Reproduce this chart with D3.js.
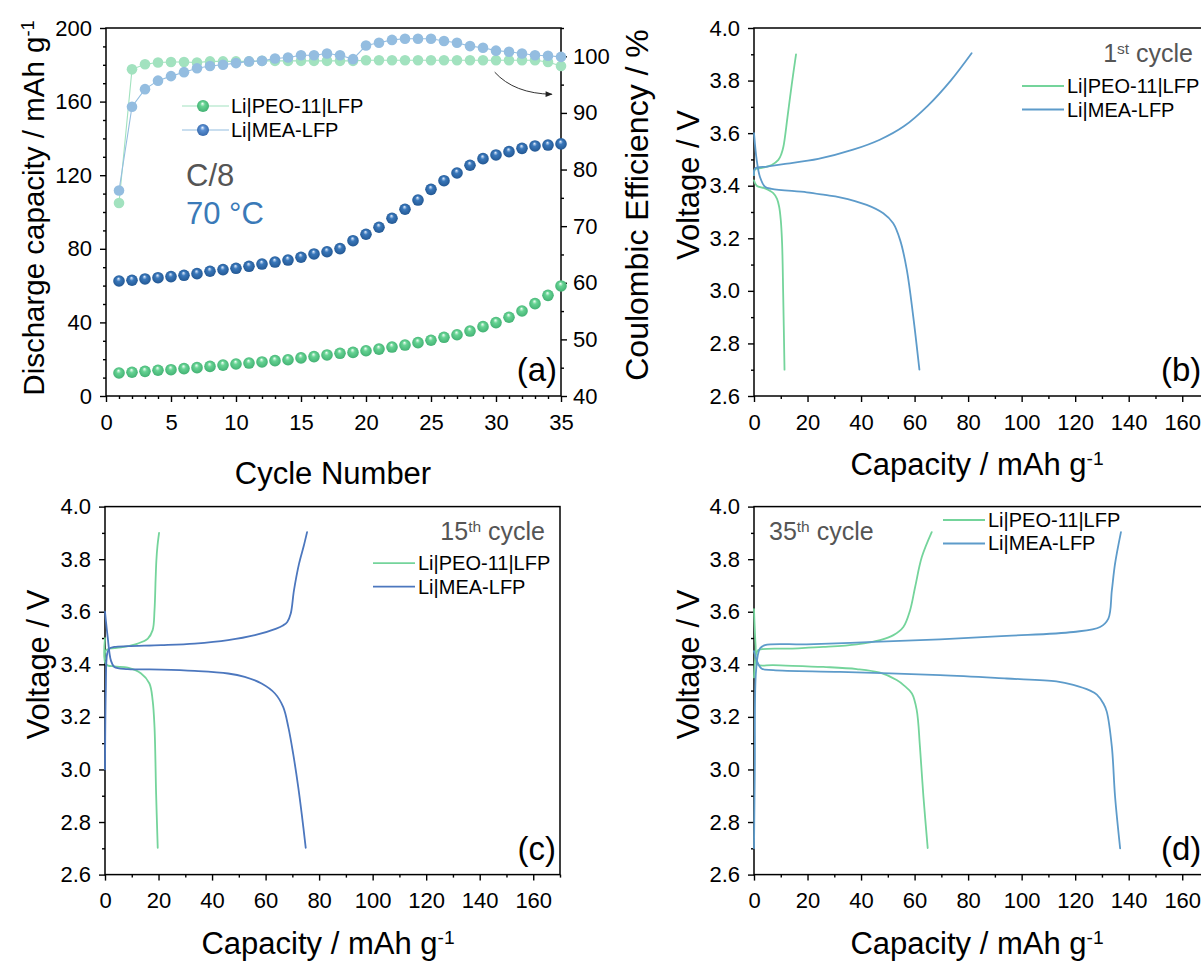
<!DOCTYPE html>
<html>
<head>
<meta charset="utf-8">
<script src="https://cdn.jsdelivr.net/npm/d3@7"></script>
<style>
  body { margin: 0; background: #fff; }
  svg { display: block; }
  text { font-family: "Liberation Sans", Arial, sans-serif; }
</style>
</head>
<body>
<svg id="fig" width="1201" height="962"></svg>
<script>
// ---------- Cycling data (panel a) ----------
const cycles = [1,2,3,4,5,6,7,8,9,10,11,12,13,14,15,16,17,18,19,20,21,22,23,24,25,26,27,28,29,30,31,32,33,34,35];
const peoCapacity = [12.5,12.9,13.4,14.0,14.3,14.9,15.4,16.1,16.8,17.4,17.9,18.5,19.2,19.7,20.7,21.4,22.3,23.2,23.7,24.6,25.5,26.6,27.7,29.0,30.3,31.9,33.3,35.3,37.7,39.9,42.8,46.2,50.2,54.7,59.8];
const meaCapacity = [62.5,62.9,63.6,64.3,64.9,65.6,66.5,67.8,68.7,69.4,70.5,71.7,72.8,73.9,75.4,77.2,78.4,80.1,84.4,87.9,91.7,96.6,101.5,106.5,112.3,117.0,121.2,125.4,129.0,131.0,132.8,134.6,135.9,136.4,137.0];
const peoCE = [74.1,97.7,98.6,98.9,99.0,99.0,98.9,99.1,99.1,99.1,99.1,99.2,99.2,99.2,99.2,99.2,99.2,99.2,99.2,99.3,99.3,99.3,99.3,99.3,99.3,99.3,99.3,99.3,99.3,99.3,99.3,99.3,99.3,99.0,98.3];
const meaCE = [76.3,91.1,94.2,95.7,96.5,97.2,97.9,98.3,98.5,98.8,99.1,99.2,99.6,99.8,100.2,100.2,100.5,100.2,99.5,101.9,102.4,102.9,103.1,103.1,103.1,102.7,102.4,101.8,101.5,101.0,100.8,100.5,100.2,100.1,99.9];

// ---------- Tick values ----------
const cycleTicks = [0,5,10,15,20,25,30,35];
const cycleMinor = [1,2,3,4,6,7,8,9,11,12,13,14,16,17,18,19,21,22,23,24,26,27,28,29,31,32,33,34];
const capATicks = [0,40,80,120,160,200];
const capAMinor = [10,20,30,50,60,70,90,100,110,130,140,150,170,180,190];
const ceTicks = [40,50,60,70,80,90,100];
const ceMinor = [45,55,65,75,85,95,105];
const capTicks = [0,20,40,60,80,100,120,140,160];
const capMinor = [10,30,50,70,90,110,130,150,170];
const voltTicks = [2.6,2.8,3.0,3.2,3.4,3.6,3.8,4.0];
const voltMinor = [2.7,2.9,3.1,3.3,3.5,3.7,3.9];

// ---------- Voltage profiles [capacity mAh/g, voltage V] ----------
const peoCharge1 = [[0,3.44],[0.4,3.462],[3,3.468],[6.6,3.479],[9.1,3.498],[10.2,3.52],[11,3.549],[12.5,3.66],[14.1,3.785],[15.7,3.90]];
const peoDischarge1 = [[0,3.42],[1,3.40],[4,3.39],[7.2,3.372],[8.6,3.35],[9.4,3.32],[10.0,3.27],[10.5,3.18],[10.9,2.99],[11.4,2.70]];
const meaCharge1 = [[0,3.44],[0.4,3.466],[5,3.473],[11,3.482],[24,3.502],[37,3.537],[47,3.575],[56,3.626],[65,3.705],[73.5,3.80],[81.3,3.904]];
const meaDischarge1 = [[0,3.60],[1,3.498],[2.2,3.434],[4.1,3.396],[6.6,3.388],[19.7,3.375],[26.5,3.365],[32.1,3.356],[42.1,3.327],[48.3,3.295],[52,3.257],[54.6,3.193],[57.1,3.08],[59.5,2.902],[61.8,2.70]];

const peoCharge15 = [[0,3.42],[0.4,3.454],[6,3.464],[12.2,3.479],[16,3.498],[17.8,3.53],[18.5,3.606],[18.9,3.72],[19.2,3.796],[19.6,3.85],[20.2,3.90]];
const peoDischarge15 = [[0,3.50],[0.4,3.40],[3.5,3.392],[8.5,3.387],[13.5,3.365],[16.6,3.327],[17.8,3.263],[18.5,3.161],[19.1,2.907],[19.7,2.702]];
const meaCharge15 = [[0,3.0],[0.3,3.3],[0.8,3.44],[1.6,3.46],[3.5,3.466],[8.5,3.469],[21,3.473],[33.5,3.479],[46,3.492],[56,3.511],[64,3.536],[66.5,3.548],[68.1,3.561],[69.4,3.593],[70.6,3.681],[72.5,3.783],[74.3,3.852],[75.5,3.903]];
const meaDischarge15 = [[0,3.60],[1,3.504],[2.2,3.415],[3.5,3.39],[8.5,3.382],[21,3.38],[33.5,3.375],[46,3.365],[52.2,3.352],[58.5,3.327],[63.5,3.289],[66.6,3.237],[68.5,3.161],[70.3,3.06],[72.2,2.933],[73.5,2.831],[75,2.702]];

const peoCharge35 = [[0,3.35],[0.8,3.44],[1.6,3.454],[13.5,3.46],[25.9,3.466],[38.4,3.476],[47.1,3.492],[52.1,3.511],[55.8,3.542],[58.3,3.605],[60.2,3.694],[62.7,3.808],[66.4,3.903]];
const peoDischarge35 = [[0,3.61],[0.6,3.47],[1.2,3.40],[7.2,3.397],[25.9,3.39],[38.4,3.382],[47.1,3.368],[53.3,3.34],[56,3.32],[59,3.289],[60.8,3.226],[62,3.087],[63.3,2.897],[64.9,2.701]];
const meaCharge35 = [[0,2.70],[0.3,3.0],[0.8,3.38],[2.2,3.46],[4.1,3.473],[19.7,3.476],[44.6,3.485],[69.5,3.495],[94.4,3.508],[119.3,3.523],[129.3,3.542],[132.4,3.574],[133.7,3.681],[134.9,3.783],[137.1,3.903]];
const meaDischarge35 = [[0,3.45],[1,3.415],[2.8,3.384],[7.2,3.378],[32.1,3.371],[69.5,3.359],[94.4,3.346],[113,3.335],[119.3,3.322],[125.6,3.30],[128.1,3.285],[130.6,3.25],[131.8,3.22],[133.7,3.087],[134.9,2.897],[136.8,2.70]];

const seriesNames = ["Li|PEO-11|LFP", "Li|MEA-LFP"];

// ---------- Styling ----------
const GREEN = "#74d49b";
const BLUE = "#5d9bca";
const BLUE_C = "#4c77be";
const GREEN_CE = "#a2e2bf";
const BLUE_CE = "#94bde0";
const AXIS_FONT = 22;
const TITLE_FONT = 31;

const svg = d3.select("#fig");
const defs = svg.append("defs");

function sphereGradient(id, light, mid, dark) {
  const g = defs.append("radialGradient").attr("id", id)
    .attr("cx", "50%").attr("cy", "50%").attr("r", "55%")
    .attr("fx", "45%").attr("fy", "28%");
  g.append("stop").attr("offset", "0%").attr("stop-color", light);
  g.append("stop").attr("offset", "35%").attr("stop-color", mid);
  g.append("stop").attr("offset", "100%").attr("stop-color", dark);
}
sphereGradient("ballGreen", "#f4fff8", "#66d393", "#3fae70");
sphereGradient("ballBlue", "#e4efff", "#3a78bb", "#20548f");
sphereGradient("ballBlueLegend", "#eef5ff", "#5a8fd2", "#3566a8");

defs.append("marker").attr("id", "arrowHead")
  .attr("viewBox", "0 0 10 10").attr("refX", 9).attr("refY", 5)
  .attr("markerWidth", 9).attr("markerHeight", 7).attr("orient", "auto")
  .attr("markerUnits", "userSpaceOnUse")
  .append("path").attr("d", "M0,1 L10,5 L0,9 Z").attr("fill", "#222");

const axisStyle = sel => {
  sel.select(".domain").remove();
  sel.selectAll("line").attr("stroke", "#000").attr("stroke-width", 1.4);
  sel.selectAll("text").attr("font-size", AXIS_FONT).attr("fill", "#000")
    .attr("font-family", "Liberation Sans, Arial, sans-serif");
};

// Draws a framed panel with outward major/minor ticks.
function framePanel(g, x, y, w, h, o) {
  g.append("g").attr("transform", `translate(0,${h})`)
    .call(d3.axisBottom(x).tickValues(o.xTicks).tickSize(6).tickPadding(12).tickFormat(o.xFmt))
    .call(axisStyle);
  g.append("g").attr("transform", `translate(0,${h})`)
    .call(d3.axisBottom(x).tickValues(o.xMinor).tickSize(3).tickFormat(""))
    .call(axisStyle);
  g.append("g")
    .call(d3.axisLeft(y).tickValues(o.yTicks).tickSize(6).tickPadding(8).tickFormat(o.yFmt))
    .call(axisStyle);
  g.append("g")
    .call(d3.axisLeft(y).tickValues(o.yMinor).tickSize(3).tickFormat(""))
    .call(axisStyle);
  g.append("rect").attr("width", w).attr("height", h)
    .attr("fill", "none").attr("stroke", "#000").attr("stroke-width", 1.5);
}

function supText(sel, parts) {
  parts.forEach(([t, sup]) => {
    const ts = sel.append("tspan").text(t);
    if (sup) ts.attr("baseline-shift", "super").attr("font-size", "62%");
  });
  return sel;
}

function vTitle(cx, cy, size, parts) {
  const t = svg.append("text")
    .attr("transform", `translate(${cx},${cy}) rotate(-90)`)
    .attr("text-anchor", "middle").attr("dy", "0.36em")
    .attr("font-size", size).attr("fill", "#000");
  return supText(t, parts);
}
function hTitle(cx, by, parts) {
  const t = svg.append("text").attr("x", cx).attr("y", by)
    .attr("text-anchor", "middle").attr("font-size", TITLE_FONT).attr("fill", "#000");
  return supText(t, parts);
}

const W = 455, H = 368;

// ================= Panel (a) =================
{
  const L = 106, T = 28;
  const g = svg.append("g").attr("transform", `translate(${L},${T})`);
  const x = d3.scaleLinear().domain([0, 35]).range([0, W]);
  const y = d3.scaleLinear().domain([0, 200]).range([H, 0]);
  const y2 = d3.scaleLinear().domain([40, 105]).range([H, 0]);

  framePanel(g, x, y, W, H, {
    xTicks: cycleTicks, xMinor: cycleMinor, xFmt: d3.format("d"),
    yTicks: capATicks, yMinor: capAMinor, yFmt: d3.format("d")
  });
  g.append("g").attr("transform", `translate(${W},0)`)
    .call(d3.axisRight(y2).tickValues(ceTicks).tickSize(6).tickPadding(6).tickFormat(d3.format("d")))
    .call(axisStyle);
  g.append("g").attr("transform", `translate(${W},0)`)
    .call(d3.axisRight(y2).tickValues(ceMinor).tickSize(3).tickFormat(""))
    .call(axisStyle);

  const ceSets = [
    { vals: peoCE, color: GREEN_CE },
    { vals: meaCE, color: BLUE_CE }
  ];
  ceSets.forEach(s => {
    const pts = cycles.map((c, i) => [c, s.vals[i]]);
    g.append("path").datum(pts)
      .attr("d", d3.line().x(d => x(d[0])).y(d => y2(d[1])))
      .attr("fill", "none").attr("stroke", s.color).attr("stroke-width", 1.1);
    g.selectAll(null).data(pts).enter().append("circle")
      .attr("cx", d => x(d[0])).attr("cy", d => y2(d[1])).attr("r", 5.3)
      .attr("fill", s.color);
  });

  const capSets = [
    { vals: peoCapacity, fill: "url(#ballGreen)" },
    { vals: meaCapacity, fill: "url(#ballBlue)" }
  ];
  capSets.forEach(s => {
    g.selectAll(null).data(cycles.map((c, i) => [c, s.vals[i]])).enter().append("circle")
      .attr("cx", d => x(d[0])).attr("cy", d => y(d[1])).attr("r", 5.8)
      .attr("fill", s.fill);
  });

  // arrow pointing to the efficiency axis
  const arrowFrom = [29.9, 97.2], arrowCtrl = [31.4, 93.4], arrowTo = [34.3, 93.3];
  const p = d3.path();
  p.moveTo(x(arrowFrom[0]), y2(arrowFrom[1]));
  p.quadraticCurveTo(x(arrowCtrl[0]), y2(arrowCtrl[1]), x(arrowTo[0]), y2(arrowTo[1]));
  g.append("path").attr("d", p.toString()).attr("fill", "none")
    .attr("stroke", "#333").attr("stroke-width", 1).attr("marker-end", "url(#arrowHead)");

  // legend
  const leg = [
    { name: seriesNames[0], line: GREEN_CE, ball: "url(#ballGreen)" },
    { name: seriesNames[1], line: BLUE_CE, ball: "url(#ballBlueLegend)" }
  ];
  leg.forEach((d, i) => {
    const yy = 78 + i * 24;
    g.append("line").attr("x1", 76).attr("x2", 123).attr("y1", yy).attr("y2", yy)
      .attr("stroke", d.line).attr("stroke-width", 1.2);
    g.append("circle").attr("cx", 97).attr("cy", yy).attr("r", 6).attr("fill", d.ball);
    g.append("text").attr("x", 125).attr("y", yy).attr("dy", "0.35em")
      .attr("font-size", 20).attr("fill", "#000").text(d.name);
  });

  g.append("text").attr("x", 80).attr("y", 158).attr("font-size", 31).attr("fill", "#555").text("C/8");
  g.append("text").attr("x", 80).attr("y", 196).attr("font-size", 31).attr("fill", "#3a7ab8").text("70 °C");
  g.append("text").attr("x", W - 4).attr("y", 353).attr("text-anchor", "end")
    .attr("font-size", 33).attr("fill", "#000").text("(a)");

  vTitle(33, 208, 29.5, [["Discharge capacity / mAh g", false], ["-1", true]]);
  vTitle(636, 205, 32, [["Coulombic Efficiency / %", false]]);
  hTitle(333, 484, [["Cycle Number", false]]);
}

// ================= Voltage-profile panels =================
function profilePanel(o) {
  const g = svg.append("g").attr("transform", `translate(${o.L},${o.T})`);
  const x = d3.scaleLinear().domain([0, 170]).range([0, W]);
  const y = d3.scaleLinear().domain([2.6, 4.0]).range([H, 0]);
  framePanel(g, x, y, W, H, {
    xTicks: capTicks, xMinor: capMinor, xFmt: d3.format("d"),
    yTicks: voltTicks, yMinor: voltMinor, yFmt: d3.format(".1f")
  });
  const line = d3.line().x(d => x(d[0])).y(d => y(d[1])).curve(d3.curveCatmullRom.alpha(0.5));
  o.curves.forEach(c => {
    g.append("path").datum(c.data).attr("d", line)
      .attr("fill", "none").attr("stroke", c.color).attr("stroke-width", 1.8)
      .attr("stroke-linejoin", "round").attr("stroke-linecap", "round");
  });
  // legend
  o.legendColors.forEach((col, i) => {
    const yy = o.legY + i * 23.5;
    g.append("line").attr("x1", o.legX).attr("x2", o.legX + 42).attr("y1", yy).attr("y2", yy)
      .attr("stroke", col).attr("stroke-width", 1.8);
    g.append("text").attr("x", o.legX + 45).attr("y", yy).attr("dy", "0.35em")
      .attr("font-size", 20).attr("fill", "#000").text(seriesNames[i]);
  });
  // cycle label
  const cl = g.append("text").attr("x", o.cycX).attr("y", o.cycY)
    .attr("text-anchor", o.cycAnchor).attr("font-size", 25).attr("fill", "#555");
  supText(cl, [[o.cycNum, false], [o.cycSup, true], [" cycle", false]]);
  // panel letter
  g.append("text").attr("x", o.letX).attr("y", 353).attr("text-anchor", o.letAnchor)
    .attr("font-size", 33).attr("fill", "#000").text(o.letter);

  vTitle(o.vtX, o.T + o.vtY, 31, [["Voltage / V", false]]);
  hTitle(o.L + 223, o.T + H + 79, [["Capacity / mAh g", false], ["-1", true]]);
}

profilePanel({
  L: 754, T: 28, letter: "(b)", letX: 407, letAnchor: "start",
  cycNum: "1", cycSup: "st", cycX: 439, cycY: 34, cycAnchor: "end",
  legX: 268, legY: 58, legendColors: [GREEN, BLUE], vtX: 688, vtY: 157,
  curves: [
    { data: peoCharge1, color: GREEN }, { data: peoDischarge1, color: GREEN },
    { data: meaCharge1, color: BLUE }, { data: meaDischarge1, color: BLUE }
  ]
});
profilePanel({
  L: 105, T: 506.6, letter: "(c)", letX: 451, letAnchor: "end",
  cycNum: "15", cycSup: "th", cycX: 440, cycY: 33.4, cycAnchor: "end",
  legX: 268, legY: 56.5, legendColors: [GREEN, BLUE_C], vtX: 38, vtY: 158,
  curves: [
    { data: peoCharge15, color: GREEN }, { data: peoDischarge15, color: GREEN },
    { data: meaCharge15, color: BLUE_C }, { data: meaDischarge15, color: BLUE_C }
  ]
});
profilePanel({
  L: 754, T: 506.6, letter: "(d)", letX: 407, letAnchor: "start",
  cycNum: "35", cycSup: "th", cycX: 15, cycY: 33.4, cycAnchor: "start",
  legX: 189, legY: 13.4, legendColors: [GREEN, BLUE], vtX: 688, vtY: 158,
  curves: [
    { data: peoCharge35, color: GREEN }, { data: peoDischarge35, color: GREEN },
    { data: meaCharge35, color: BLUE }, { data: meaDischarge35, color: BLUE }
  ]
});
</script>
</body>
</html>
